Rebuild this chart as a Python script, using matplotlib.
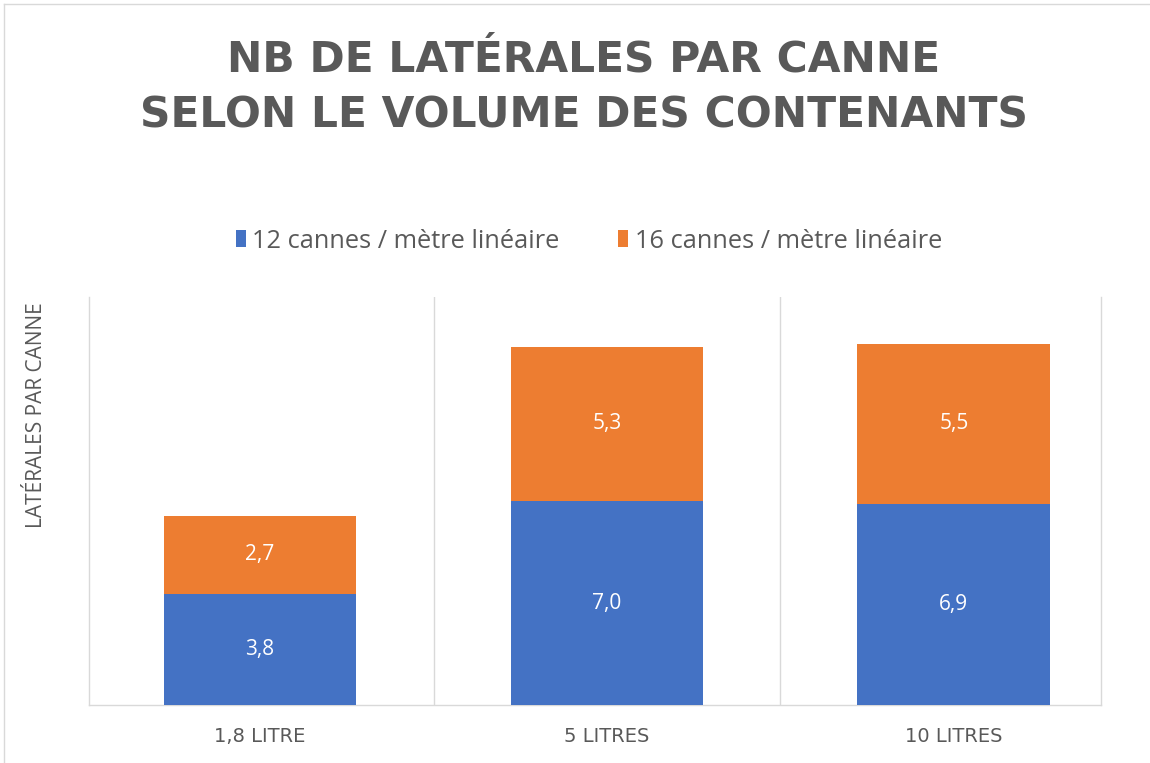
import matplotlib
matplotlib.use("Agg")
import matplotlib.pyplot as plt
from matplotlib.patches import Patch
from matplotlib.lines import Line2D

categories = ["1,8 LITRE", "5 LITRES", "10 LITRES"]
series_names = ["12 cannes / mètre linéaire", "16 cannes / mètre linéaire"]
values_12 = [3.8, 7.0, 6.9]
values_16 = [2.7, 5.3, 5.5]
title_lines = ["NB DE LATÉRALES PAR CANNE", "SELON LE VOLUME DES CONTENANTS"]
y_label = "LATÉRALES PAR CANNE"

BLUE = "#4472C4"
ORANGE = "#ED7D31"
GRAY_TXT = "#595959"
GRID = "#D9D9D9"

W, H = 1150, 763
fig = plt.figure(figsize=(W / 100, H / 100), dpi=100)
fig.patch.set_facecolor("white")

# axes placement (pixels -> fraction)
left, right, top, bottom = 89, 1101, 297, 705
ax = fig.add_axes([left / W, 1 - bottom / H, (right - left) / W, (bottom - top) / H])

x = list(range(len(categories)))
bw = 0.556
c1 = ax.bar(x, values_12, width=bw, color=BLUE, zorder=3)
c2 = ax.bar(x, values_16, width=bw, bottom=values_12, color=ORANGE, zorder=3)

fmt = lambda v: f"{v:.1f}".replace(".", ",")
for cont, vals in ((c1, values_12), (c2, values_16)):
    ax.bar_label(cont, labels=[fmt(v) for v in vals], label_type="center",
                 color="white", fontsize=15, family="Open Sans")

ax.set_xlim(-0.493, 2.424)
ax.set_ylim(0, 14)
ax.set_yticks([])
ax.set_xticks(x)
ax.set_xticklabels(categories, family="DejaVu Sans", fontsize=14, color=GRAY_TXT)
ax.tick_params(axis="x", length=0, pad=16)
ax.set_xticks([0.5, 1.5], minor=True)
ax.tick_params(axis="x", which="minor", length=0)
ax.grid(axis="x", which="minor", color=GRID, linewidth=1, zorder=0)

for s in ("left", "right", "bottom"):
    ax.spines[s].set_color(GRID)
    ax.spines[s].set_linewidth(1)
ax.spines["top"].set_visible(False)

ax.set_ylabel(y_label, family="Open Sans", fontsize=15, color=GRAY_TXT, labelpad=0)
ax.yaxis.set_label_coords((47 - left) / (right - left), (705 - 415) / (705 - 297))

# title
fig.text(584 / W, 1 - 72 / H, title_lines[0], ha="center", va="baseline",
         family="DejaVu Sans", fontweight="bold", fontsize=30.5, color=GRAY_TXT)
fig.text(584 / W, 1 - 128 / H, title_lines[1], ha="center", va="baseline",
         family="DejaVu Sans", fontweight="bold", fontsize=30.5, color=GRAY_TXT)

# legend
handles = [Patch(facecolor=BLUE, edgecolor="none"), Patch(facecolor=ORANGE, edgecolor="none")]
leg = fig.legend(handles, series_names, loc="center", bbox_to_anchor=(589 / W, 1 - 241 / H),
                 ncol=2, frameon=False, handlelength=0.4, handleheight=0.6,
                 handletextpad=0.25, columnspacing=2.3,
                 prop={"family": "Open Sans", "size": 18.3})
for t in leg.get_texts():
    t.set_color(GRAY_TXT)

# outer chart frame
fig.add_artist(Line2D([4 / W, 4 / W], [0, 1 - 4 / H], color=GRID, linewidth=1))
fig.add_artist(Line2D([4 / W, 1], [1 - 4 / H, 1 - 4 / H], color=GRID, linewidth=1))

fig.savefig("out.png", dpi=100, facecolor="white")
